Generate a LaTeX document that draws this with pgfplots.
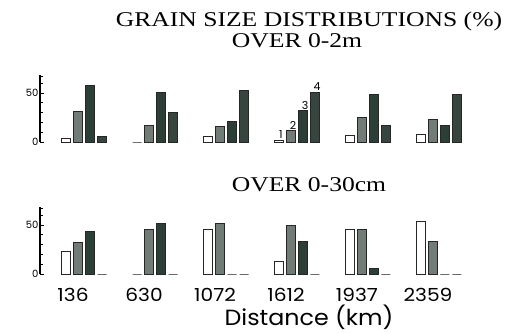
\documentclass[border=0pt]{standalone}
\usepackage{fontspec}
\setmainfont{Liberation Serif}
\newfontfamily\titlefont[FakeStretch=1.22]{Liberation Serif}
\newfontfamily\gothic{Poppins}
\newfontfamily\widegothic[FakeStretch=1.08]{Poppins}
\newfontfamily\tickgothic[FakeStretch=1.12]{Poppins}
\usepackage{pgfplots}
\pgfplotsset{compat=1.18}

\definecolor{barB}{HTML}{727C77}
\definecolor{barC}{HTML}{2C3F37}
\definecolor{barD}{HTML}{36453E}

\pgfplotsset{grainaxis/.style={
    scale only axis,
    width=443pt, height=66.6pt,
    xmin=-0.62, xmax=5.62, ymin=0, ymax=68,
    axis y line*=left, axis x line*=bottom,
    x axis line style={draw=none},
    y axis line style={line width=1.1pt, -},
    ybar=3pt, bar width=9pt,
    ytick={0,50}, minor ytick={10,20,30,40,60,67},
    tick align=inside,
    major tick length=4pt, minor tick length=3pt,
    every tick/.style={line width=0.9pt, black},
    xtick={0,...,5}, xtick style={draw=none},
    /pgf/number format/assume math mode=true,
    yticklabel style={font=\gothic\fontsize{10}{12}\selectfont, xshift=2pt},
    every axis plot/.append style={draw=black!85, line width=1pt},
}}

\begin{document}
\begin{tikzpicture}
\useasboundingbox (0,0) rectangle (515pt,333pt);

\node[anchor=base, font=\titlefont\fontsize{21}{24}\selectfont] at (309pt,306pt) {GRAIN SIZE DISTRIBUTIONS (\%)};
\node[anchor=base, font=\titlefont\fontsize{21}{24}\selectfont] at (297pt,285pt) {OVER 0-2m};
\node[anchor=base, font=\titlefont\fontsize{21}{24}\selectfont] at (309pt,142pt) {OVER 0-30cm};
\node[anchor=base, font=\widegothic\fontsize{22}{25}\selectfont] at (309pt,8pt) {Distance (km)};

% over 0-2m
\begin{axis}[grainaxis, at={(40pt,191pt)}, anchor=south west, xticklabels={}]
\addplot[fill=white] coordinates {(0,4) (1,0) (2,6) (3,2) (4,7) (5,8)};
\addplot[fill=barB] coordinates {(0,31) (1,17) (2,16) (3,12) (4,25) (5,23)};
\addplot[fill=barC] coordinates {(0,58) (1,51) (2,21) (3,32) (4,49) (5,17)};
\addplot[fill=barD] coordinates {(0,6) (1,30) (2,53) (3,51) (4,17) (5,48)};
\node[anchor=south, font=\gothic\fontsize{11}{12}\selectfont, inner sep=1pt] at (axis cs:3,2) [xshift=-16pt] {1};
\node[anchor=south, font=\gothic\fontsize{11}{12}\selectfont, inner sep=1pt] at (axis cs:3,12) [xshift=-4pt] {2};
\node[anchor=south, font=\gothic\fontsize{11}{12}\selectfont, inner sep=1pt] at (axis cs:3,32) [xshift=8pt] {3};
\node[anchor=south, font=\gothic\fontsize{11}{12}\selectfont, inner sep=1pt] at (axis cs:3,51) [xshift=20pt] {4};
\end{axis}

% over 0-30cm
\begin{axis}[grainaxis, at={(40pt,59pt)}, anchor=south west,
    xticklabels={136,630,1072,1612,1937,2359},
    xticklabel style={font=\tickgothic\fontsize{18}{20}\selectfont, xshift=-11pt, yshift=-11pt}]
\addplot[fill=white] coordinates {(0,23) (1,0) (2,45) (3,13) (4,45) (5,54)};
\addplot[fill=barB] coordinates {(0,32) (1,45) (2,52) (3,50) (4,45) (5,33)};
\addplot[fill=barC] coordinates {(0,43) (1,52) (2,0) (3,33) (4,6) (5,0)};
\addplot[fill=barD] coordinates {(0,0) (1,0) (2,0) (3,0) (4,0) (5,0)};
\end{axis}
\end{tikzpicture}
\end{document}
